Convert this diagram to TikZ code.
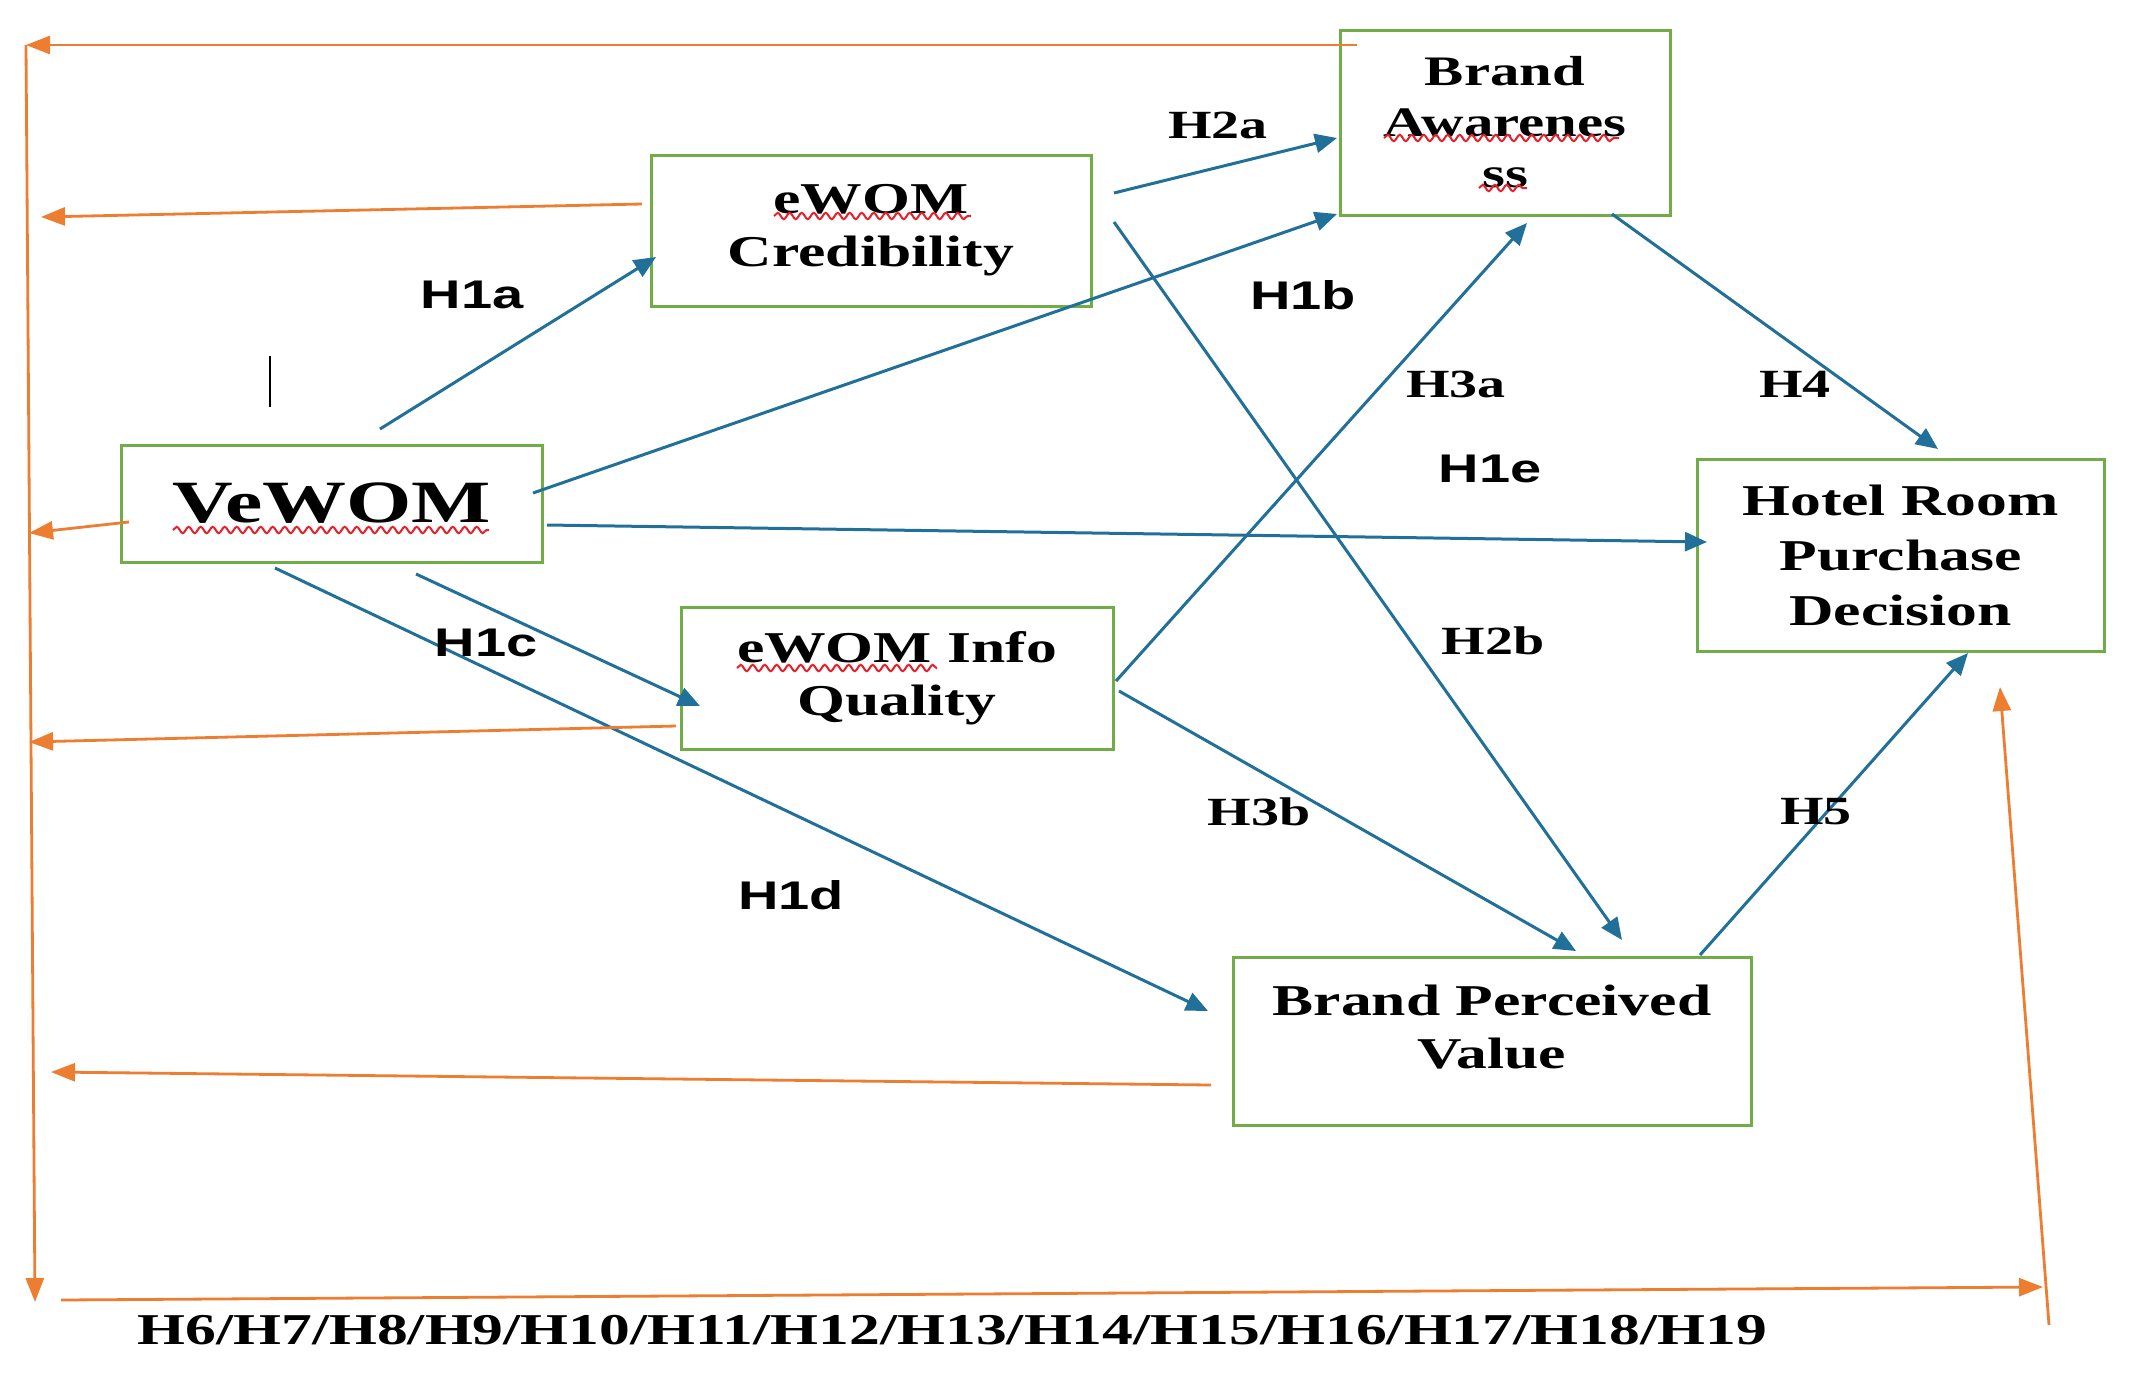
\documentclass[tikz,border=0pt]{standalone}
\usepackage{fontspec}
\setmainfont{Liberation Serif}[FakeStretch=1.4]
\newfontfamily\lsans{Liberation Sans}[FakeStretch=1.4]
\usetikzlibrary{arrows.meta,decorations.pathmorphing}
\definecolor{boxgreen}{HTML}{70AD47}
\definecolor{arrblue}{HTML}{21709A}
\definecolor{arrorange}{HTML}{ED7D31}
\definecolor{squig}{HTML}{E8202A}
\begin{document}
\begin{tikzpicture}[x=0.5pt,y=-0.5pt,
 box/.style={draw=boxgreen,line width=1.5pt,rectangle,inner sep=0pt,align=center,font=\bfseries\fontsize{22}{26.5}\selectfont},
 boxtext/.style={inner sep=0pt,align=center,font=\bfseries\fontsize{22}{26.5}\selectfont},
 blu/.style={draw=arrblue,line width=1.5pt,-{Triangle[length=11pt,width=9.5pt]}},
 ora/.style={draw=arrorange,line width=1.4pt,-{Triangle[length=12pt,width=9pt]}},
 slab/.style={inner sep=0pt,font=\lsans\bfseries\fontsize{20}{24}\selectfont},
 tlab/.style={inner sep=0pt,font=\bfseries\fontsize{20}{24}\selectfont},
 wavy/.style={draw=squig,line width=1pt,decorate,decoration={snake,amplitude=1.6pt,segment length=6pt}}
]
\useasboundingbox (0,0) rectangle (2131,1382);

% boxes
\node[box,minimum width=220pt,minimum height=75.5pt] (cred) at (871,230.5) {eWOM\\Credibility};
\node[box,minimum width=165pt,minimum height=92.5pt,font=\bfseries\fontsize{21}{25.5}\selectfont] (aware) at (1505,122.5) {Brand\\Awarenes\\ss};
\node[box,minimum width=210.5pt,minimum height=58.5pt,font=\bfseries\fontsize{30}{34}\selectfont] (vewom) at (331.5,503.5) {VeWOM};
\node[box,minimum width=216pt,minimum height=71pt] (info) at (897,678) {eWOM Info\\Quality};
\node[box,minimum width=203.5pt,minimum height=96pt,font=\bfseries\fontsize{22}{27.5}\selectfont] (hotel) at (1900.5,555) {Hotel Room\\Purchase\\Decision};
\node[box,minimum width=259pt,minimum height=84pt] (bpv) at (1492,1041) {};
\node[boxtext] (bpvtext) at (1492,1027) {Brand Perceived\\Value};

% spell-check squiggles and cursor
\coordinate (sq1a) at (774,216); \coordinate (sq1b) at (971,216);
\coordinate (sq2a) at (173,530); \coordinate (sq2b) at (489,530);
\coordinate (sq3a) at (1384,138); \coordinate (sq3b) at (1619,138);
\coordinate (sq4a) at (1479,188); \coordinate (sq4b) at (1527,188);
\coordinate (sq5a) at (737,668); \coordinate (sq5b) at (937,668);
\draw[wavy] (sq1a) -- (sq1b);
\draw[wavy] (sq2a) -- (sq2b);
\draw[wavy] (sq3a) -- (sq3b);
\draw[wavy] (sq4a) -- (sq4b);
\draw[wavy] (sq5a) -- (sq5b);
\coordinate (cura) at (270,356); \coordinate (curb) at (270,407);
\draw[black,line width=1pt] (cura) -- (curb);

% blue connectors
\coordinate (h1as) at (380,429); \coordinate (h1ae) at (656,257);
\coordinate (h1bs) at (533,493); \coordinate (h1be) at (1337,214);
\coordinate (h1es) at (547,525); \coordinate (h1ee) at (1707,542);
\coordinate (h1cs) at (416,574); \coordinate (h1ce) at (700,706);
\coordinate (h1ds) at (275,568); \coordinate (h1de) at (1208,1011);
\coordinate (h2as) at (1114,193); \coordinate (h2ae) at (1337,138);
\coordinate (h2bs) at (1114,222); \coordinate (h2be) at (1622,940);
\coordinate (h3as) at (1116,681); \coordinate (h3ae) at (1527,223);
\coordinate (h3bs) at (1119,691); \coordinate (h3be) at (1576,951);
\coordinate (h4s) at (1612,214); \coordinate (h4e) at (1938,449);
\coordinate (h5s) at (1700,955); \coordinate (h5e) at (1968,653);
\draw[blu] (h1as) -- (h1ae);
\draw[blu] (h1bs) -- (h1be);
\draw[blu] (h1es) -- (h1ee);
\draw[blu] (h1cs) -- (h1ce);
\draw[blu] (h1ds) -- (h1de);
\draw[blu] (h2as) -- (h2ae);
\draw[blu] (h2bs) -- (h2be);
\draw[blu] (h3as) -- (h3ae);
\draw[blu] (h3bs) -- (h3be);
\draw[blu] (h4s) -- (h4e);
\draw[blu] (h5s) -- (h5e);

% orange connectors
\coordinate (otop) at (1357,45); \coordinate (tl) at (26,45);
\coordinate (ocs) at (642,204); \coordinate (oce) at (41,217);
\coordinate (ovs) at (129,522); \coordinate (ove) at (29,533);
\coordinate (ois) at (676,726); \coordinate (oie) at (29,742);
\coordinate (obs) at (1211,1085); \coordinate (obe) at (51,1072);
\coordinate (bl) at (35,1302);
\coordinate (obots) at (61,1300); \coordinate (obote) at (2043,1287);
\coordinate (orvs) at (2049,1325); \coordinate (orve) at (2000,687);
\draw[ora] (otop) -- (tl);
\draw[ora] (ocs) -- (oce);
\draw[ora] (ovs) -- (ove);
\draw[ora] (ois) -- (oie);
\draw[ora] (obs) -- (obe);
\draw[ora] (tl) -- (bl);
\draw[ora] (obots) -- (obote);
\draw[ora] (orvs) -- (orve);

% labels
\node[slab] (l1a) at (472,295) {H1a};
\node[slab] (l1b) at (1303,295) {H1b};
\node[slab] (l1c) at (486,643) {H1c};
\node[slab] (l1d) at (791,895) {H1d};
\node[slab] (l1e) at (1490,469) {H1e};
\node[tlab] (l2a) at (1218,125) {H2a};
\node[tlab] (l2b) at (1493,641) {H2b};
\node[tlab] (l3a) at (1456,384) {H3a};
\node[tlab] (l3b) at (1259,812) {H3b};
\node[tlab] (l4) at (1795,384) {H4};
\node[tlab] (l5) at (1816,812) {H5};
\node[inner sep=0pt,font=\bfseries\fontsize{22}{26}\selectfont] (bottom) at (952,1330) {H6/H7/H8/H9/H10/H11/H12/H13/H14/H15/H16/H17/H18/H19};
\end{tikzpicture}
\end{document}
